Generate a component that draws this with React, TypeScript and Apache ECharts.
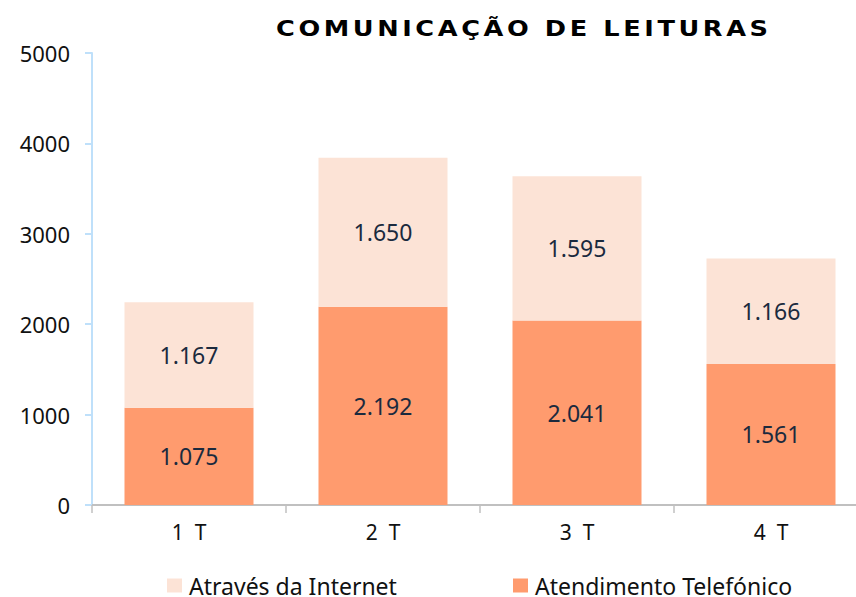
import React, { useEffect, useRef } from "react";
import * as echarts from "echarts";

const categories = ["1  T", "2  T", "3  T", "4  T"];
const telefonico = [1075, 2192, 2041, 1561];
const internet = [1167, 1650, 1595, 1166];
const yTicks = { min: 0, max: 5000, interval: 1000 };
const titleText = "COMUNICAÇÃO DE LEITURAS";
const nameInternet = "Através da Internet";
const nameTelefonico = "Atendimento Telefónico";

const fmt = (v: number) => {
  const s = String(Math.round(v));
  return s.replace(/\B(?=(\d{3})+(?!\d))/g, ".");
};

export default function App() {
  const ref = useRef<HTMLDivElement>(null);
  useEffect(() => {
    document.body.style.margin = "0";
    const chart = echarts.init(ref.current!, null, { renderer: "svg" });
    const labelStyle = {
      show: true,
      position: "inside" as const,
      color: "#1b2a3e",
      fontSize: 23,
      fontFamily: "Noto Sans",
      formatter: (p: any) => fmt(p.value),
    };
    const legendText = {
      fontSize: 23,
      lineHeight: 23,
      fontFamily: "Noto Sans",
      color: "#111",
      padding: [0, 0, 0, 2],
    };
    const titleScale = 1.22;
    chart.setOption({
      animation: false,
      graphic: [
        {
          type: "text",
          x: 276,
          y: 29,
          scaleX: titleScale,
          style: {
            text: titleText,
            fontFamily: "DejaVu Sans",
            fontWeight: "bold",
            fontSize: 21,
            fill: "#000",
            textAlign: "left",
            textVerticalAlign: "middle",
          },
        },
      ],
      grid: {
        left: 92,
        right: -12,
        top: 53,
        bottom: 92,
        containLabel: false,
        outerBoundsMode: "none",
      },
      xAxis: {
        type: "category",
        data: categories,
        axisLine: { lineStyle: { color: "#c0c0c0", width: 2 } },
        axisTick: { show: true, length: 8, lineStyle: { color: "#c0c0c0", width: 1.5 } },
        axisLabel: {
          color: "#111",
          fontSize: 21,
          fontFamily: "Noto Sans",
          margin: 16,
        },
      },
      yAxis: {
        type: "value",
        min: yTicks.min,
        max: yTicks.max,
        interval: yTicks.interval,
        splitLine: { show: false },
        axisLine: { show: true, lineStyle: { color: "#bfe0fa", width: 2 } },
        axisTick: { show: true, length: 7, lineStyle: { color: "#bfe0fa", width: 2 } },
        axisLabel: {
          color: "#111",
          fontSize: 22,
          fontFamily: "Noto Sans",
          margin: 22,
          formatter: (v: number) => String(v),
        },
      },
      legend: [
        {
          data: [nameInternet],
          left: 162,
          top: 569,
          itemWidth: 15,
          itemHeight: 14,
          icon: "rect",
          textStyle: legendText,
        },
        {
          data: [nameTelefonico],
          left: 508,
          top: 569,
          itemWidth: 15,
          itemHeight: 14,
          icon: "rect",
          textStyle: legendText,
        },
      ],
      series: [
        {
          name: nameTelefonico,
          type: "bar",
          stack: "total",
          data: telefonico,
          barWidth: "66.5%",
          itemStyle: { color: "#ff9b6e" },
          label: labelStyle,
        },
        {
          name: nameInternet,
          type: "bar",
          stack: "total",
          data: internet,
          barWidth: "66.5%",
          itemStyle: { color: "#fce3d6" },
          label: labelStyle,
        },
      ],
    });
    const texts = ref.current!.querySelectorAll("text");
    texts.forEach((t: any) => {
      if (t.textContent === titleText) {
        try {
          const len = t.getComputedTextLength();
          const target = 492 / titleScale;
          const sp = (target - len) / (titleText.length - 1);
          if (sp > 0) t.style.letterSpacing = sp + "px";
        } catch (e) {}
      }
    });
    return () => chart.dispose();
  }, []);
  return <div ref={ref} style={{ width: 856, height: 597 }} />;
}
